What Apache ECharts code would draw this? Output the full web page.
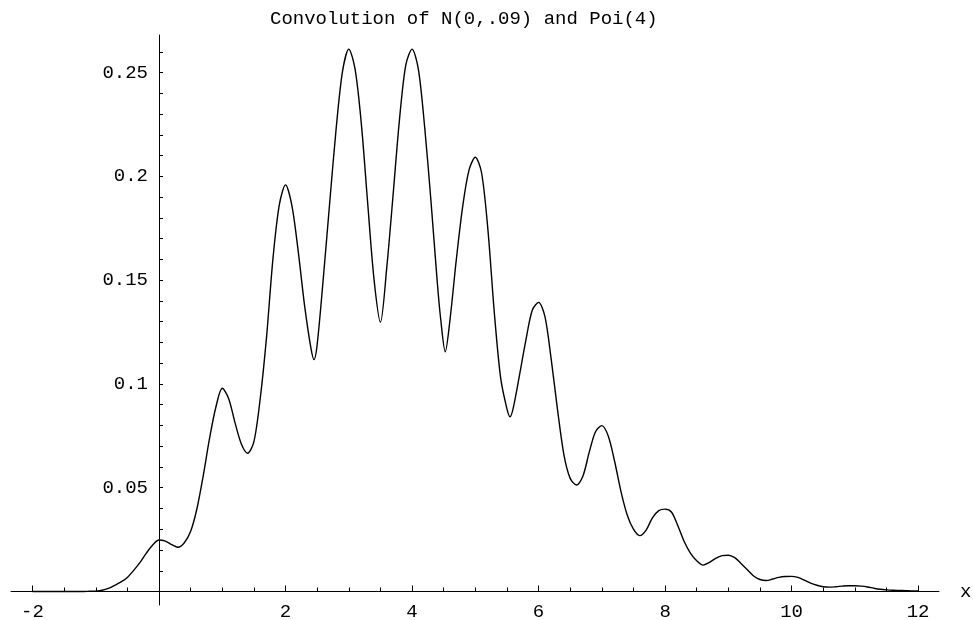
<!DOCTYPE html>
<html>
<head>
<meta charset="utf-8">
<script src="https://cdn.jsdelivr.net/npm/echarts@6/dist/echarts.min.js"></script>
<style>
html,body{margin:0;padding:0;background:#fff;}
#chart{width:973px;height:620px;}
</style>
</head>
<body>
<div id="chart"></div>
<script>
var titleText = 'Convolution of N(0,.09) and Poi(4)';
var xValues = [-2.0,-1.9,-1.8,-1.7,-1.6,-1.5,-1.4,-1.3,-1.2,-1.1,-1.0,-0.9,-0.8,-0.7,-0.6,-0.5,-0.4,-0.3,-0.2,-0.1,
  0.0,0.1,0.2,0.3,0.4,0.5,0.6,0.7,0.8,0.9,1.0,1.1,1.2,1.3,1.4,1.5,1.6,1.7,1.8,1.9,
  2.0,2.1,2.2,2.3,2.4,2.45,2.5,2.6,2.7,2.8,2.9,3.0,3.1,3.2,3.3,3.4,3.5,3.6,3.7,3.8,3.9,
  4.0,4.1,4.2,4.3,4.4,4.45,4.525,4.6,4.7,4.8,4.9,5.0,5.1,5.2,5.3,5.4,5.5,5.55,5.6,5.7,5.8,5.9,
  6.0,6.1,6.2,6.3,6.4,6.5,6.6,6.7,6.8,6.9,7.0,7.1,7.2,7.3,7.4,7.5,7.6,7.7,7.8,7.9,
  8.0,8.1,8.2,8.3,8.4,8.5,8.6,8.7,8.8,8.9,9.0,9.1,9.2,9.3,9.4,9.5,9.6,9.7,9.8,9.9,
  10.0,10.1,10.2,10.3,10.4,10.5,10.6,10.7,10.8,10.9,11.0,11.1,11.2,11.3,11.4,11.5,11.6,11.7,11.8,11.9,12.0];
var yValues = [0,0,0,0,0,0,0,0,0,0.0001,0.0002,0.0006,0.0015,0.0030,0.0046,0.0068,0.0102,0.0140,0.0185,0.0224,
  0.0248,0.0243,0.0226,0.0213,0.0235,0.0290,0.0400,0.0560,0.0740,0.0890,0.0979,0.0930,0.0815,0.0712,0.0666,0.0722,0.0930,0.1227,0.1600,0.1860,
  0.1959,0.1860,0.1640,0.1380,0.1175,0.1117,0.1190,0.1520,0.1880,0.2230,0.2505,0.2613,0.2515,0.2247,0.1865,0.1500,0.1297,0.1560,0.1910,0.2270,0.2535,
  0.2613,0.2515,0.2235,0.1877,0.1485,0.1320,0.1155,0.1310,0.1600,0.1854,0.2030,0.2092,0.2015,0.1740,0.1345,0.1030,0.0880,0.0842,0.0885,0.1045,0.1212,0.1355,
  0.1393,0.1325,0.1118,0.0875,0.0660,0.0545,0.0513,0.0555,0.0670,0.0770,0.0799,0.0750,0.0630,0.0485,0.0370,0.0300,0.0269,0.0296,0.0355,0.0390,
  0.0397,0.0383,0.0318,0.0242,0.0185,0.0148,0.0127,0.0140,0.0160,0.0173,0.0175,0.0163,0.0135,0.0105,0.0075,0.0058,0.0053,0.0060,0.0068,0.0072,
  0.0073,0.0068,0.0055,0.0040,0.0030,0.0023,0.0021,0.0023,0.0026,0.0028,0.0028,0.0026,0.0022,0.0016,0.0011,0.0008,0.0006,0.0005,0.0004,0.0003,0.0003];
var xTickLabels = [-2,2,4,6,8,10,12];
var xMinorTicks = [-2,-1.5,-1,-0.5,0.5,1,1.5,2,2.5,3,3.5,4,4.5,5,5.5,6,6.5,7,7.5,8,8.5,9,9.5,10,10.5,11,11.5,12];
var yTickLabels = [0.05,0.1,0.15,0.2,0.25];
var yTicks = [0.01,0.02,0.03,0.04,0.05,0.06,0.07,0.08,0.09,0.10,0.11,0.12,0.13,0.14,0.15,0.16,0.17,0.18,0.19,0.20,0.21,0.22,0.23,0.24,0.25,0.26];

var points = xValues.map(function(x, i){ return [x, yValues[i]]; });
var font = 'Liberation Mono';
var X_MIN = -2.34, X_MAX = 12.33, Y_MIN = -0.0065, Y_MAX = 0.2681;
var G = {left: 11, right: 34, top: 35, bottom: 15};
var W = 973, H = 620;
var gw = W - G.left - G.right, gh = H - G.top - G.bottom;
// offsets that move axes onto the zero lines
var yAxisOffset = -((0 - X_MIN) / (X_MAX - X_MIN) * gw);
var xAxisOffset = -((0 - Y_MIN) / (Y_MAX - Y_MIN) * gh);

var chart = echarts.init(document.getElementById('chart'), null, {renderer:'canvas'});
chart.setOption({
  animation: false,
  backgroundColor: '#fff',
  title: {
    text: titleText, left: 265, top: 4,
    textStyle: {fontFamily: font, fontSize: 19, fontWeight: 'normal', color: '#000'}
  },
  grid: {left: G.left, right: G.right, top: G.top, bottom: G.bottom, containLabel: false, outerBoundsMode: 'none'},
  xAxis: [{
    type: 'value', min: X_MIN, max: X_MAX, position: 'bottom', offset: xAxisOffset,
    axisLine: {show: true, onZero: false, lineStyle: {color: '#000', width: 1}},
    axisTick: {show: true, inside: true, length: 6, customValues: xTickLabels, lineStyle: {color: '#000'}},
    axisLabel: {show: true, customValues: xTickLabels, margin: 11, fontFamily: font, fontSize: 19, color: '#000',
      formatter: function(v){ return String(v); }},
    splitLine: {show: false},
    name: 'x', nameLocation: 'end', nameGap: 21,
    nameTextStyle: {fontFamily: font, fontSize: 19, color: '#000', verticalAlign: 'middle'}
  }, {
    type: 'value', min: X_MIN, max: X_MAX, position: 'bottom', offset: xAxisOffset,
    axisLine: {show: false, onZero: false},
    axisTick: {show: true, inside: true, length: 4, customValues: xMinorTicks, lineStyle: {color: '#000'}},
    axisLabel: {show: false},
    splitLine: {show: false}
  }],
  yAxis: {
    type: 'value', min: Y_MIN, max: Y_MAX, position: 'left', offset: yAxisOffset,
    axisLine: {show: true, onZero: false, lineStyle: {color: '#000', width: 1}},
    axisTick: {show: true, inside: true, length: 4, customValues: yTicks, lineStyle: {color: '#000'}},
    axisLabel: {show: true, customValues: yTickLabels, margin: 11, fontFamily: font, fontSize: 19, color: '#000',
      formatter: function(v){ return String(Math.round(v*100)/100); }},
    splitLine: {show: false}
  },
  series: [{
    type: 'line', data: points, xAxisIndex: 0, yAxisIndex: 0,
    showSymbol: false, smooth: 0.3,
    lineStyle: {color: '#000', width: 1.4}
  }]
});
</script>
</body>
</html>
